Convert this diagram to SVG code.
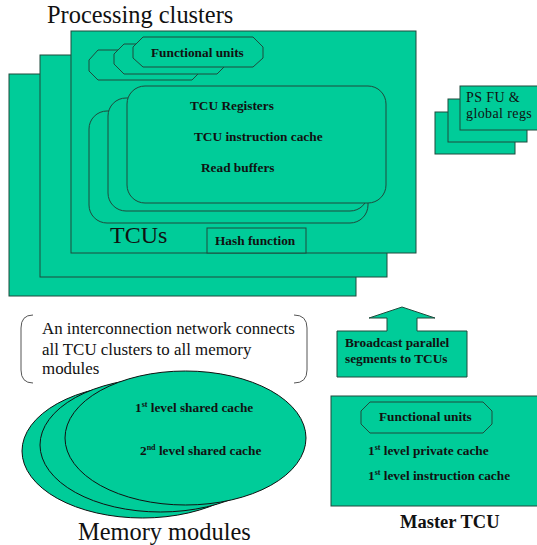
<svg xmlns="http://www.w3.org/2000/svg" width="537" height="545" viewBox="0 0 537 545">
<style>
.g{fill:#00cc99;stroke:#1f4a3c;stroke-width:1}
.e{fill:#00cc99;stroke:#111;stroke-width:1}
text{font-family:'Liberation Serif','Times New Roman',Times,'DejaVu Serif',serif;fill:#111}
.t{font-size:13.3px;font-weight:bold}
.big{font-size:24.4px}
.br{fill:none;stroke:#555;stroke-width:1}
</style>
<rect width="537" height="545" fill="#fff"/>
<text class="big" x="47" y="23">Processing clusters</text>
<g id="clusters">
<rect class="g" x="9" y="74" width="347" height="222"/>
<rect class="g" x="40" y="55" width="347" height="222"/>
<rect class="g" x="71" y="31" width="345" height="222"/>
</g>
<g id="functional-units">
<polygon class="g" points="98,50 192,50 202,60 202,70 192,80 98,80 89,71 89,60"/>
<polygon class="g" points="124,44 217,44 227,54 227,64 217,74 124,74 114,64 114,54"/>
<polygon class="g" points="143,37 253,37 263,47 263,58 253,67 143,67 133,58 133,47"/>
<text class="t" x="151" y="57">Functional units</text>
</g>
<g id="tcus">
<rect class="g" x="89" y="111" width="279" height="112" rx="18"/>
<rect class="g" x="108" y="98" width="260" height="113" rx="18"/>
<rect class="g" x="127" y="86" width="259" height="117" rx="18"/>
<text class="t" x="190" y="110">TCU Registers</text>
<text class="t" x="194" y="141">TCU instruction cache</text>
<text class="t" x="201" y="172">Read buffers</text>
<text x="110" y="243" font-size="24">TCUs</text>
</g>
<g id="hash">
<rect class="g" x="207" y="228" width="99" height="25"/>
<text class="t" x="215" y="245">Hash function</text>
</g>
<g id="psfu">
<rect class="g" x="435" y="112" width="80" height="42"/>
<rect class="g" x="448" y="99" width="79" height="43"/>
<rect class="g" x="460" y="86" width="80" height="44"/>
<text x="466" y="102" font-size="14" letter-spacing="0.4">PS FU &amp;</text>
<text x="466" y="118" font-size="14" letter-spacing="0.4">global regs</text>
</g>
<g id="network">
<path class="br" d="M33,315 Q21,315 21,328 V370 Q21,383 33,383"/>
<path class="br" d="M294,315 Q307,315 307,328 V370 Q307,383 294,383"/>
<text font-size="16.9" x="42" y="334">An interconnection network connects</text>
<text font-size="16.9" x="42" y="355">all TCU clusters to all memory</text>
<text font-size="16.9" x="42" y="374">modules</text>
</g>
<g id="memory">
<ellipse class="e" cx="142.5" cy="451" rx="120.5" ry="67"/>
<ellipse class="e" cx="160.5" cy="445" rx="120.5" ry="67"/>
<ellipse class="e" cx="185.5" cy="438" rx="120.5" ry="67"/>
<text class="t" x="135" y="412">1<tspan font-size="8" dy="-5">st</tspan><tspan dy="5"> level shared cache</tspan></text>
<text class="t" x="140" y="455">2<tspan font-size="8" dy="-5">nd</tspan><tspan dy="5"> level shared cache</tspan></text>
<text class="big" x="78" y="540">Memory modules</text>
</g>
<g id="broadcast">
<polygon class="g" points="337,331 387,331 387,318 369,318 402,307 435,318 417,318 417,331 467,331 467,377 337,377"/>
<text class="t" x="345" y="347">Broadcast parallel</text>
<text class="t" x="345" y="363">segments to TCUs</text>
</g>
<g id="master">
<rect class="g" x="331" y="396" width="210" height="110"/>
<polygon class="g" points="370,402 483,402 492,411 492,424 483,433 370,433 361,424 361,411"/>
<text class="t" x="379" y="421">Functional units</text>
<text class="t" x="368" y="455">1<tspan font-size="8" dy="-5">st</tspan><tspan dy="5"> level private cache</tspan></text>
<text class="t" x="368" y="480">1<tspan font-size="8" dy="-5">st</tspan><tspan dy="5"> level instruction cache</tspan></text>
<text x="400" y="528" font-size="18.5" font-weight="bold">Master TCU</text>
</g>
</svg>
